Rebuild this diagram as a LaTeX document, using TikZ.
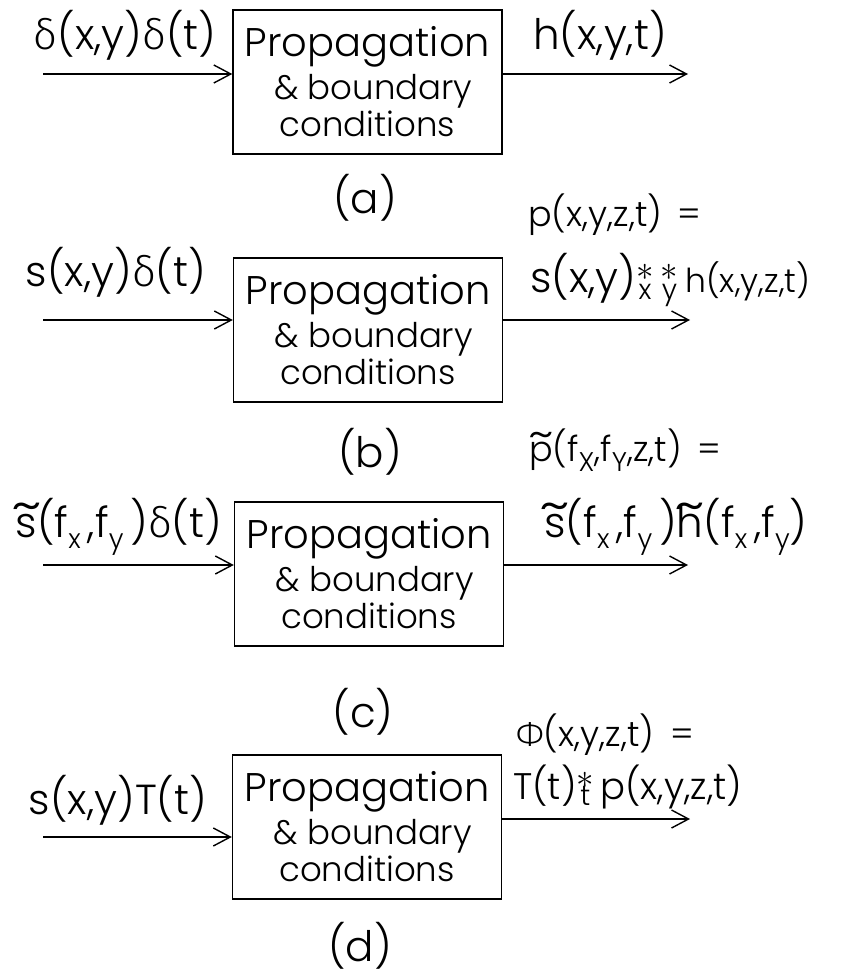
\documentclass[tikz,border=0pt]{standalone}
\usepackage{fontspec}
\usepackage{amsmath}
\setmainfont{Poppins}[UprightFont=* Light]
\newfontfamily\grk{Fira Sans}[UprightFont=* Light]
\usetikzlibrary{arrows.meta}
\newcommand{\gdl}{{\grk δ}}
\newcommand{\gph}{{\grk Φ}}
\newcommand{\tld}[1]{\ooalign{#1\cr\hidewidth\raisebox{0.36em}{\scalebox{1.5}[1.2]{\char"007E}}\hidewidth\cr}}
\newcommand{\lsub}[1]{\raisebox{-0.5ex}{\fontsize{27}{27}\selectfont #1}}
\newcommand{\conv}[1]{\ooalign{\hfil\raisebox{0.3em}{\scalebox{1.4}{$\ast$}}\hfil\cr\hfil\raisebox{-0.16em}{\fontsize{28}{28}\selectfont #1}\hfil\cr}}
\newcommand{\blines}{Propagation\\[3pt] \fontsize{34}{36}\selectfont\,\,\& boundary\\[-3pt] \fontsize{34}{36}\selectfont conditions}
\tikzset{
  sysbox/.style={draw, line width=1.4pt, minimum width=269pt, minimum height=144pt, align=center,
    font=\fontsize{40}{40}\selectfont, inner sep=0pt},
  lbl/.style={inner sep=0pt, font=\fontsize{42}{46}\selectfont},
  sml/.style={inner sep=0pt, font=\fontsize{35}{40}\selectfont},
  sig/.style={line width=1.4pt, -{Straight Barb[length=17pt, width=18pt, line width=1.4pt]}}
}
\begin{document}
\begin{tikzpicture}[x=1pt, y=-1pt]
\useasboundingbox (0,0) rectangle (846,979);
% (a)
\node[sysbox] (boxa) at (367.5,82) {\blines};
\coordinate (ina) at (43,74);
\coordinate (outa) at (688,74);
\draw[sig] (ina) -- (ina -| boxa.west);
\draw[sig] (outa -| boxa.east) -- (outa);
\node[lbl] (inlbla) at (125,35) {\gdl(x,y)\gdl(t)};
\node[lbl] (outlbla) at (600,35) {h(x,y,t)};
\node[lbl] (capa) at (365,198) {(a)};
% (b)
\node[sysbox] (boxb) at (368,330) {\blines};
\coordinate (inb) at (43,320);
\coordinate (outb) at (690,320);
\draw[sig] (inb) -- (inb -| boxb.west);
\draw[sig] (outb -| boxb.east) -- (outb);
\node[lbl] (inlblb) at (116,272) {s(x,y)\gdl(t)};
\node[sml] (eqb) at (615,215) {p(x,y,z,t) \,=};
\node[lbl, anchor=west] (outlblb) at (530,280) {s(x,y)\conv{x}\,\conv{y}\,{\fontsize{33}{36}\selectfont h(x,y,z,t)}};
\node[lbl] (capb) at (370,452) {(b)};
% (c)
\node[sysbox] (boxc) at (369,574) {\blines};
\coordinate (inc) at (43,565);
\coordinate (outc) at (688,565);
\draw[sig] (inc) -- (inc -| boxc.west);
\draw[sig] (outc -| boxc.east) -- (outc);
\node[sml] (eqc) at (625,450) {\tld{p}(f\lsub{X},f\lsub{Y},z,t) \,=};
\node[lbl] (inlblc) at (119,527) {\tld{s}(f\lsub{x}\,,f\lsub{y}\,)\gdl(t)};
\node[lbl] (outlblc) at (676,527) {\tld{s}(f\lsub{x}\,,f\lsub{y}\,)\tld{h}(f\lsub{x}\,,f\lsub{y})};
\node[lbl] (capc) at (363,712) {(c)};
% (d)
\node[sysbox] (boxd) at (367,827) {\blines};
\coordinate (ind) at (43,837);
\coordinate (outd) at (690,819);
\draw[sig] (ind) -- (ind -| boxd.west);
\draw[sig] (outd -| boxd.east) -- (outd);
\node[sml] (eqd) at (605,735) {\gph(x,y,z,t) \,=};
\node[sml, anchor=west, font=\fontsize{37}{40}\selectfont] (outlbld) at (513,787) {T(t)\conv{t}\,p(x,y,z,t)};
\node[lbl] (inlbld) at (118,800) {s(x,y)T(t)};
\node[lbl] (capd) at (360,946) {(d)};
\end{tikzpicture}
\end{document}
